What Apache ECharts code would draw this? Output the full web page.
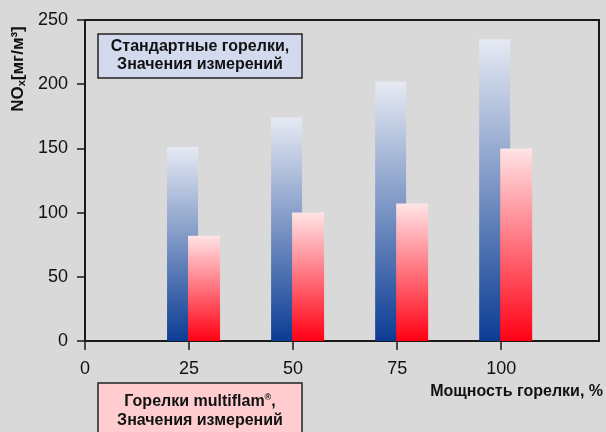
<!DOCTYPE html>
<html>
<head>
<meta charset="utf-8">
<script src="https://cdn.jsdelivr.net/npm/echarts@6/dist/echarts.min.js"></script>
<style>
  html, body { margin: 0; padding: 0; background: #d9d9d9; }
  #chart { width: 606px; height: 432px; }
</style>
</head>
<body>
<div id="chart"></div>
<script>
// burner load, % and measured NOx, mg/m3
const loads = [25, 50, 75, 100];
const standardNOx = [151, 174, 202, 235];
const multiflamNOx = [82, 100, 107, 150];
const xTicks = [0, 25, 50, 75, 100];

const FONT = "'Liberation Sans', Arial, sans-serif";

function gradient(top, bottom) {
    return new echarts.graphic.LinearGradient(0, 0, 0, 1, [
        { offset: 0, color: top },
        { offset: 1, color: bottom }
    ]);
}

function barItem(shift, width, fill) {
    return function (params, api) {
        const base = api.coord([api.value(0), 0]);
        const top = api.coord([api.value(0), api.value(1)]);
        return {
            type: "rect",
            shape: { x: base[0] + shift, y: top[1], width: width, height: base[1] - top[1] },
            style: { fill: fill }
        };
    };
}

const chart = echarts.init(document.getElementById("chart"));

chart.setOption({
    backgroundColor: "#d9d9d9",
    animation: false,
    textStyle: { fontFamily: FONT },
    grid: {
        left: 85,
        right: 7,
        top: 20,
        bottom: 91,
        show: true,
        borderColor: "#1a1a1a",
        borderWidth: 2,
        backgroundColor: "transparent"
    },
    xAxis: {
        type: "value",
        min: 0,
        max: 123.5,
        interval: 25,
        splitLine: { show: false },
        axisLine: { show: true, lineStyle: { color: "#1a1a1a", width: 1.5 } },
        axisTick: { show: true, customValues: xTicks, length: 9, lineStyle: { color: "#1a1a1a", width: 1.5 } },
        axisLabel: { customValues: xTicks, fontSize: 18, margin: 19, color: "#111", fontFamily: FONT }
    },
    yAxis: {
        type: "value",
        min: 0,
        max: 250,
        interval: 50,
        splitLine: { show: false },
        axisLine: { show: true, lineStyle: { color: "#1a1a1a", width: 2 } },
        axisTick: { show: true, length: 8, lineStyle: { color: "#1a1a1a", width: 1.5 } },
        axisLabel: { fontSize: 18, margin: 17, color: "#111", fontFamily: FONT }
    },
    series: [
        {
            name: "Стандартные горелки",
            type: "custom",
            renderItem: barItem(-22, 31, gradient("#e6eaf3", "#0b3c94")),
            data: loads.map((x, i) => [x, standardNOx[i]])
        },
        {
            name: "Горелки multiflam",
            type: "custom",
            renderItem: barItem(-1, 32, gradient("#ffe4e6", "#ff0014")),
            data: loads.map((x, i) => [x, multiflamNOx[i]])
        }
    ],
    graphic: [
        {
            type: "text",
            x: 18,
            y: 69,
            rotation: Math.PI / 2,
            style: {
                text: "{b|NO}{s|x}{b|[мг/м³]}",
                align: "center",
                verticalAlign: "middle",
                rich: {
                    b: { fontSize: 17, fontWeight: "bold", fontFamily: FONT, fill: "#111" },
                    s: { fontSize: 11, fontWeight: "bold", fontFamily: FONT, fill: "#111", padding: [8, 0, 0, 0] }
                }
            }
        },
        {
            type: "text",
            x: 603,
            y: 392,
            style: {
                text: "Мощность горелки, %",
                align: "right",
                verticalAlign: "middle",
                font: "bold 16px " + FONT,
                fill: "#111"
            }
        },
        {
            type: "group",
            children: [
                {
                    type: "rect",
                    shape: { x: 98, y: 34, width: 204, height: 44 },
                    style: { fill: "#d3daee", stroke: "#222", lineWidth: 1.5 }
                },
                {
                    type: "text",
                    x: 200,
                    y: 56,
                    style: {
                        text: "Стандартные горелки,\nЗначения измерений",
                        align: "center",
                        verticalAlign: "middle",
                        lineHeight: 18,
                        font: "bold 16px " + FONT,
                        fill: "#111"
                    }
                }
            ]
        },
        {
            type: "group",
            children: [
                {
                    type: "rect",
                    shape: { x: 98, y: 383, width: 204, height: 60 },
                    style: { fill: "#ffcdcf", stroke: "#222", lineWidth: 1.5 }
                },
                {
                    type: "text",
                    x: 200,
                    y: 411,
                    style: {
                        text: "{t|Горелки multiflam}{r|®}{t|,}\n{t|Значения измерений}",
                        align: "center",
                        verticalAlign: "middle",
                        rich: {
                            t: { fontSize: 16, fontWeight: "bold", fontFamily: FONT, fill: "#111", lineHeight: 19 },
                            r: { fontSize: 9, fontWeight: "bold", fontFamily: FONT, fill: "#111", lineHeight: 19, padding: [0, 0, 8, 0] }
                        }
                    }
                }
            ]
        }
    ]
});
</script>
</body>
</html>
